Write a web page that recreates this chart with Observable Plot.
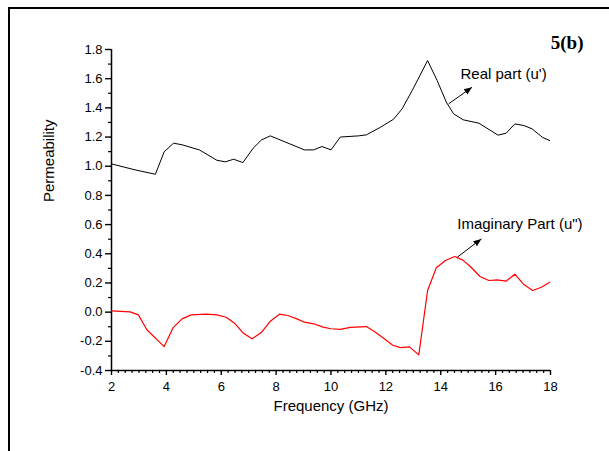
<!DOCTYPE html>
<html>
<head>
<meta charset="utf-8">
<script src="https://cdn.jsdelivr.net/npm/d3@7"></script>
<script src="https://cdn.jsdelivr.net/npm/@observablehq/plot@0.6"></script>
<style>
  html, body { margin: 0; padding: 0; background: #fff; overflow: hidden; }
  #wrap { position: relative; width: 609px; height: 451px; overflow: hidden; }
  #frameBorder { position: absolute; left: 8px; top: 7px; width: 800px; height: 800px;
    border-left: 2.5px solid #000; border-top: 2.5px solid #000; pointer-events: none; }
  svg { font-family: "Liberation Sans", Arial, sans-serif; }
</style>
</head>
<body>
<div id="wrap"><div id="frameBorder"></div></div>
<script>
// ---- data ----
const freqReal = [2.00, 2.86, 3.60, 3.92, 4.26, 4.57, 5.20, 5.84, 6.15, 6.45, 6.79, 7.16, 7.47, 7.79,
  9.03, 9.37, 9.67, 10.00, 10.34, 11.00, 11.29, 11.80, 12.28, 12.59, 12.96, 13.52, 13.87, 14.20,
  14.47, 14.82, 15.39, 16.09, 16.38, 16.70, 17.03, 17.33, 17.70, 17.97];
const realPart = [1.016, 0.975, 0.945, 1.099, 1.158, 1.147, 1.112, 1.041, 1.030, 1.048, 1.025, 1.123, 1.181, 1.208,
  1.112, 1.112, 1.135, 1.112, 1.200, 1.208, 1.215, 1.267, 1.322, 1.393, 1.519, 1.724, 1.587, 1.440,
  1.359, 1.318, 1.295, 1.213, 1.226, 1.290, 1.279, 1.256, 1.199, 1.176];

const freqImag = [2.00, 2.68, 2.98, 3.29, 3.92, 4.24, 4.57, 4.90, 5.45, 5.84, 6.18, 6.51, 6.81, 7.12,
  7.46, 7.79, 8.12, 8.43, 8.76, 9.03, 9.37, 9.71, 10.00, 10.34, 10.70, 11.29, 11.62, 11.92, 12.25,
  12.53, 12.86, 13.20, 13.52, 13.84, 14.17, 14.51, 14.79, 15.08, 15.42, 15.75, 16.06, 16.38, 16.70,
  17.03, 17.35, 17.67, 17.97];
const imagPart = [0.009, 0.002, -0.019, -0.121, -0.236, -0.108, -0.046, -0.019, -0.014, -0.019, -0.035, -0.080, -0.145, -0.183,
  -0.140, -0.062, -0.014, -0.023, -0.046, -0.069, -0.080, -0.103, -0.114, -0.118, -0.104, -0.099, -0.138, -0.179, -0.227,
  -0.243, -0.238, -0.293, 0.148, 0.304, 0.354, 0.381, 0.358, 0.313, 0.246, 0.217, 0.221, 0.212, 0.260,
  0.189, 0.148, 0.171, 0.205];

const xMajorTicks = [2, 4, 6, 8, 10, 12, 14, 16, 18];
const xMinorTicks = d3.range(2, 18.001, 0.25).filter(v => v % 2 !== 0);
const yMajorTicks = [-0.4, -0.2, 0, 0.2, 0.4, 0.6, 0.8, 1.0, 1.2, 1.4, 1.6, 1.8];
const yMinorTicks = [-0.3, -0.1, 0.1, 0.3, 0.5, 0.7, 0.9, 1.1, 1.3, 1.5, 1.7];

const xLabel = "Frequency (GHz)";
const yLabel = "Permeability";
const panelLabel = "5(b)";

// annotations (data units)
const noteText = ["Real part (u')", "Imaginary Part (u\")"];
const noteX = [14.72, 14.60];
const noteY = [1.634, 0.606];
const arrowX1 = [14.29, 14.60], arrowY1 = [1.428, 0.376];
const arrowX2 = [15.14, 15.48], arrowY2 = [1.541, 0.502];

// ---- chart ----
function arrowHead(color, ctx) {
  const doc = (ctx && ctx.document) ? ctx.document : document;
  const ns = "http://www.w3.org/2000/svg";
  const m = doc.createElementNS(ns, "marker");
  m.setAttribute("viewBox", "-8 -4 8 8");
  m.setAttribute("markerWidth", 8);
  m.setAttribute("markerHeight", 8);
  m.setAttribute("markerUnits", "userSpaceOnUse");
  m.setAttribute("orient", "auto");
  m.setAttribute("fill", color);
  m.setAttribute("stroke", "none");
  const p = doc.createElementNS(ns, "path");
  p.setAttribute("d", "M-8,-3.2L0,0L-8,3.2Z");
  m.appendChild(p);
  return m;
}

const realIdx = d3.range(freqReal.length);
const imagIdx = d3.range(freqImag.length);
const noteIdx = d3.range(noteText.length);
const fmt = d => d.toFixed(1);

const chart = Plot.plot({
  width: 609,
  height: 451,
  marginLeft: 111,
  marginRight: 59,
  marginTop: 49,
  marginBottom: 81,
  style: { fontFamily: "'Liberation Sans', Arial, sans-serif", color: "#000", background: "transparent", overflow: "visible" },
  x: { domain: [2, 18] },
  y: { domain: [-0.4, 1.8] },
  marks: [
    Plot.axisX(xMinorTicks, { tickSize: 3, text: null, strokeWidth: 1.2 }),
    Plot.axisX(xMajorTicks, { tickSize: 5, tickPadding: 6, fontSize: 13, strokeWidth: 1.4, label: null }),
    Plot.axisY(yMinorTicks, { tickSize: 3, text: null, strokeWidth: 1.2 }),
    Plot.axisY(yMajorTicks, { tickSize: 6, tickPadding: 3, fontSize: 13, strokeWidth: 1.4, tickFormat: fmt, label: null }),
    Plot.ruleX([2], { stroke: "#000", strokeWidth: 1.5 }),
    Plot.ruleY([-0.4], { stroke: "#000", strokeWidth: 1.5 }),
    Plot.line(realIdx, { x: i => freqReal[i], y: i => realPart[i], stroke: "#000", strokeWidth: 1 }),
    Plot.line(imagIdx, { x: i => freqImag[i], y: i => imagPart[i], stroke: "#ff0000", strokeWidth: 1.2 }),
    Plot.link(noteIdx, { x1: i => arrowX1[i], y1: i => arrowY1[i], x2: i => arrowX2[i], y2: i => arrowY2[i],
      stroke: "#000", strokeWidth: 1, markerEnd: arrowHead }),
    Plot.text(noteIdx, { x: i => noteX[i], y: i => noteY[i], text: i => noteText[i],
      textAnchor: "start", fontSize: 15, fill: "#000" }),
    Plot.text([xLabel], { frameAnchor: "bottom", dy: 40, fontSize: 15, fill: "#000" }),
    Plot.text([yLabel], { frameAnchor: "left", dx: -62, dy: -8, rotate: -90, fontSize: 15, fill: "#000" }),
    Plot.text([panelLabel], { frameAnchor: "top-right", dx: 33, dy: -14, textAnchor: "end",
      fontSize: 19, fontWeight: "bold", fontFamily: "'Liberation Serif', 'Times New Roman', serif", fill: "#000" })
  ]
});
chart.style.position = "absolute";
chart.style.left = "0px";
chart.style.top = "0px";
document.getElementById("wrap").appendChild(chart);
</script>
</body>
</html>
